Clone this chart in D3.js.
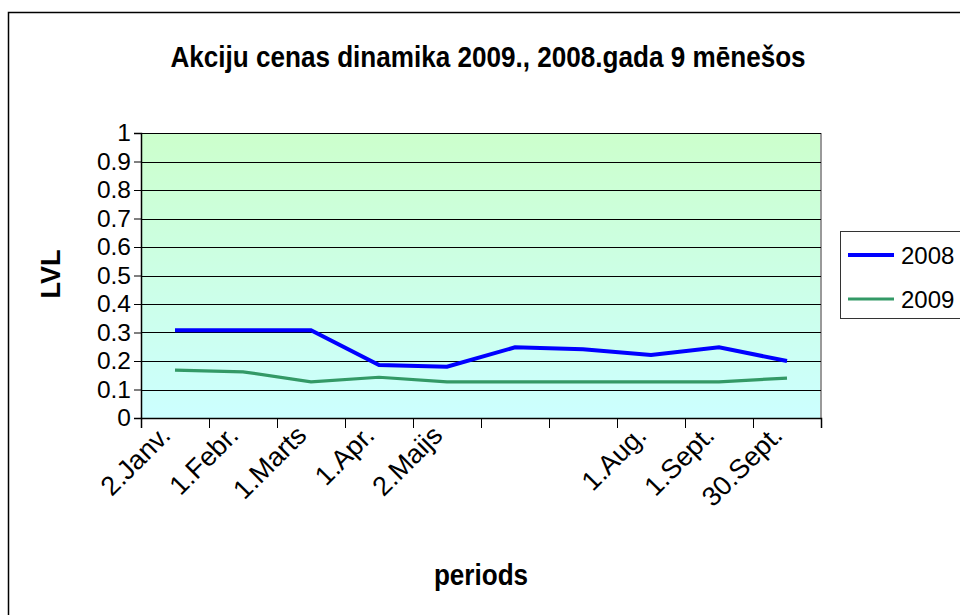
<!DOCTYPE html>
<html>
<head>
<meta charset="utf-8">
<script src="https://cdn.jsdelivr.net/npm/d3@7"></script>
<style>
  body { margin: 0; background: #fff; }
  svg { display: block; font-family: "Liberation Sans", Arial, sans-serif; }
</style>
</head>
<body>
<div class="chart"></div>
<script>
// -----------------------------------------------------------------------
// Data
// -----------------------------------------------------------------------

// categories along the x axis (two months have no label in the original)
const periods = ["2.Janv.", "1.Febr.", "1.Marts", "1.Apr.", "2.Maijs", "", "", "1.Aug.", "1.Sept.", "30.Sept."];

const values2008 = [0.308, 0.308, 0.308, 0.186, 0.18, 0.248, 0.241, 0.221, 0.248, 0.2];
const values2009 = [0.168, 0.162, 0.127, 0.143, 0.127, 0.127, 0.127, 0.127, 0.127, 0.14];

const yTicks = [0, 0.1, 0.2, 0.3, 0.4, 0.5, 0.6, 0.7, 0.8, 0.9, 1];

const seriesNames = ["2008", "2009"];
const seriesColors = ["#0000ff", "#339966"];

// -----------------------------------------------------------------------
// Layout
// -----------------------------------------------------------------------

const WIDTH = 960;
const HEIGHT = 615;
const PLOT = { left: 141, right: 821, top: 133, bottom: 418 };
const SX = 0.9; // title text in the picture is a bit narrower than normal

const svg = d3.select(".chart")
  .append("svg")
  .attr("width", WIDTH)
  .attr("height", HEIGHT);

// outer chart frame, runs off the right and bottom of the picture
svg.append("rect")
  .attr("x", 8.5)
  .attr("y", 12.5)
  .attr("width", 1000)
  .attr("height", 700)
  .attr("fill", "none")
  .attr("stroke", "#000")
  .attr("stroke-width", 1.5);

// plot background gradient
const grad = svg.append("defs")
  .append("linearGradient")
  .attr("id", "bg")
  .attr("x1", 0).attr("y1", 0)
  .attr("x2", 0).attr("y2", 1);
grad.append("stop").attr("offset", "0%").attr("stop-color", "#ccffcc");
grad.append("stop").attr("offset", "100%").attr("stop-color", "#ccffff");

// scales
const xScale = d3.scaleBand()
  .domain(d3.range(periods.length))
  .range([PLOT.left, PLOT.right])
  .paddingInner(0)
  .paddingOuter(0);

// tick marks sit between the categories
const xEdges = d3.scaleLinear()
  .domain([0, periods.length])
  .range([PLOT.left, PLOT.right]);

const yScale = d3.scaleLinear()
  .domain([0, 1])
  .range([PLOT.bottom, PLOT.top]);

svg.append("rect")
  .attr("x", PLOT.left)
  .attr("y", PLOT.top)
  .attr("width", PLOT.right - PLOT.left)
  .attr("height", PLOT.bottom - PLOT.top)
  .attr("fill", "url(#bg)");

// right border of the plot area is grey
svg.append("line")
  .attr("x1", PLOT.right).attr("x2", PLOT.right)
  .attr("y1", PLOT.top).attr("y2", PLOT.bottom)
  .attr("stroke", "#999")
  .attr("stroke-width", 2);

// horizontal gridlines
svg.append("g")
  .attr("class", "grid")
  .selectAll("line")
  .data(yTicks.slice(1))
  .join("line")
  .attr("x1", PLOT.left)
  .attr("x2", PLOT.right)
  .attr("y1", d => Math.round(yScale(d)) + 0.5)
  .attr("y2", d => Math.round(yScale(d)) + 0.5)
  .attr("stroke", "#000")
  .attr("stroke-width", 1);

// y axis
const yAxis = svg.append("g")
  .attr("transform", `translate(${PLOT.left}, 0)`)
  .call(d3.axisLeft(yScale)
    .tickValues(yTicks)
    .tickSize(7)
    .tickPadding(3)
    .tickFormat(d => String(+d.toFixed(1))));
yAxis.select(".domain").attr("stroke", "#000").attr("stroke-width", 1.5);
yAxis.selectAll("text")
  .attr("font-size", 24.5)
  .attr("fill", "#000")
  .attr("font-family", "Liberation Sans, Arial, sans-serif");

// x axis: only tick marks from the edge scale
const xAxis = svg.append("g")
  .attr("transform", `translate(0, ${PLOT.bottom})`)
  .call(d3.axisBottom(xEdges)
    .ticks(periods.length)
    .tickSize(10)
    .tickFormat(""));
xAxis.select(".domain").attr("stroke", "#000").attr("stroke-width", 1.5);

// x labels, rotated like in the original
svg.append("g")
  .attr("class", "x-labels")
  .selectAll("text")
  .data(periods)
  .join("text")
  .attr("transform", (d, i) => `translate(${xScale(i) + xScale.bandwidth() / 2 - 3}, 437) rotate(-45)`)
  .attr("text-anchor", "end")
  .attr("font-size", 27)
  .text(d => d);

// lines
const line = d3.line()
  .x((d, i) => xScale(i) + xScale.bandwidth() / 2)
  .y(d => yScale(d));

svg.append("path")
  .datum(values2009)
  .attr("d", line)
  .attr("fill", "none")
  .attr("stroke", seriesColors[1])
  .attr("stroke-width", 3.2);

svg.append("path")
  .datum(values2008)
  .attr("d", line)
  .attr("fill", "none")
  .attr("stroke", seriesColors[0])
  .attr("stroke-width", 4);

// -----------------------------------------------------------------------
// Titles
// -----------------------------------------------------------------------

svg.append("text")
  .attr("transform", `translate(488, 67) scale(${SX}, 1)`)
  .attr("text-anchor", "middle")
  .attr("font-size", 29)
  .attr("font-weight", "bold")
  .text("Akciju cenas dinamika 2009., 2008.gada 9 mēnešos");

svg.append("text")
  .attr("transform", `translate(481, 585) scale(${SX}, 1)`)
  .attr("text-anchor", "middle")
  .attr("font-size", 29)
  .attr("font-weight", "bold")
  .text("periods");

svg.append("text")
  .attr("transform", "translate(60, 274) rotate(-90)")
  .attr("text-anchor", "middle")
  .attr("font-size", 27)
  .attr("font-weight", "bold")
  .text("LVL");

// -----------------------------------------------------------------------
// Legend
// -----------------------------------------------------------------------

const legend = svg.append("g").attr("class", "legend");
legend.append("rect")
  .attr("x", 840.5)
  .attr("y", 231.5)
  .attr("width", 200)
  .attr("height", 87)
  .attr("fill", "#fff")
  .attr("stroke", "#333")
  .attr("stroke-width", 1);

const items = legend.selectAll(".item")
  .data(seriesNames)
  .join("g")
  .attr("class", "item")
  .attr("transform", (d, i) => `translate(0, ${255 + i * 44})`);
items.append("line")
  .attr("x1", 848)
  .attr("x2", 894)
  .attr("stroke", (d, i) => seriesColors[i])
  .attr("stroke-width", (d, i) => i === 0 ? 4 : 3.2);
items.append("text")
  .attr("x", 901)
  .attr("y", 9)
  .attr("font-size", 24)
  .text(d => d);
</script>
</body>
</html>
